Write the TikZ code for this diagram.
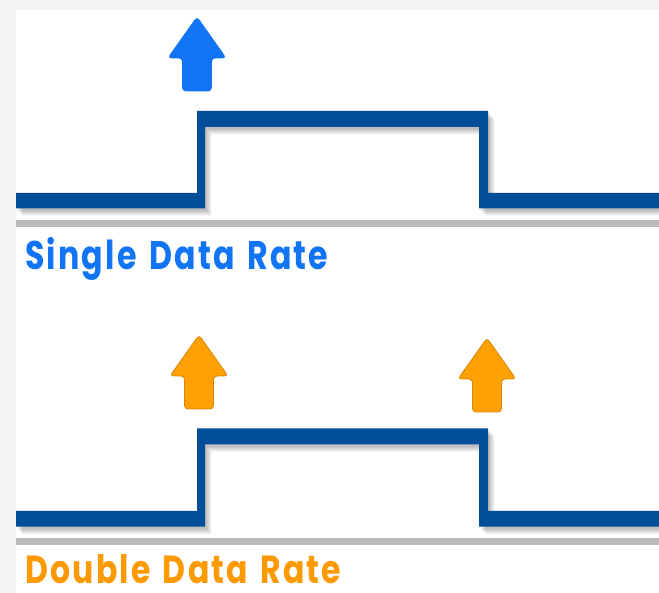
\documentclass[tikz,border=0pt]{standalone}
\usepackage{fontspec}
\usepackage{graphicx}
\usetikzlibrary{positioning}
\newfontfamily\ratefont{Poppins}[LetterSpace=7,WordSpace=1.4]
\definecolor{sigblue}{RGB}{0,77,153}
\definecolor{clkblue}{RGB}{16,116,245}
\definecolor{clkorange}{RGB}{255,160,5}
\definecolor{clkedge}{RGB}{214,134,0}
\definecolor{txtorange}{RGB}{255,153,0}
\definecolor{paper}{RGB}{243,243,243}
\tikzset{
    baseline/.style={
        line width=7pt,
        draw=black!27
    },
    wave/.style={
        fill=sigblue
    },
    waveshade/.style={
        fill=black,
        fill opacity=0.09
    },
    clkmark/.style={
        rounded corners=3.5pt,
        line width=0.8pt
    },
    ratelabel/.style={
        anchor=base west,
        inner sep=0pt,
        font=\ratefont\bfseries
    }
}
% square wave: #1 low level, #2 high level (centre lines, px)
\newcommand{\wavepath}[2]{
    (16,#1-7.5) -- (197,#1-7.5) -- (197,#2-8) -- (488,#2-8)
    -- (488,#1-7.5) -- (659,#1-7.5) -- (659,#1+8) -- (479,#1+8)
    -- (479,#2+8) -- (205,#2+8) -- (205,#1+8) -- (16,#1+8) -- cycle
}
% upward clock arrow with its tip at (#1,#2)
\newcommand{\clkarrow}[3]{
    \draw[clkmark, #3]
        (#1,#2) -- (#1+29,#2+41) -- (#1+14.5,#2+41) -- (#1+14.5,#2+74)
        -- (#1-14.5,#2+74) -- (#1-14.5,#2+41) -- (#1-29,#2+41) -- cycle;
}

\begin{document}
\begin{tikzpicture}[x=1pt, y=-1pt]
    \useasboundingbox (0,0) rectangle (659,593);
    \fill[paper] (0,0) rectangle (659,593);
    \fill[white] (16,10) rectangle (659,593);

    % single data rate
    \draw[baseline] (16,224) -- (659,224);
    \foreach \d in {2,4,6}
        \fill[waveshade, shift={(\d,\d+1)}] \wavepath{200.5}{119};
    \fill[wave] \wavepath{200.5}{119};
    \clkarrow{197}{17}{fill=clkblue, draw=clkblue}
    \node[ratelabel, text=clkblue] (sdr) at (25,270)
        {\resizebox{303pt}{32pt}{Single Data Rate}};

    % double data rate
    \draw[baseline] (16,541.5) -- (659,541.5);
    \foreach \d in {2,4,6}
        \fill[waveshade, shift={(\d,\d+1)}] \wavepath{518.5}{436.5};
    \fill[wave] \wavepath{518.5}{436.5};
    \clkarrow{199}{335}{fill=clkorange, draw=clkedge}
    \clkarrow{487}{338}{fill=clkorange, draw=clkedge}
    \node[ratelabel, text=txtorange] (ddr) at (25,583)
        {\resizebox{316pt}{29pt}{Double Data Rate}};
\end{tikzpicture}
\end{document}
